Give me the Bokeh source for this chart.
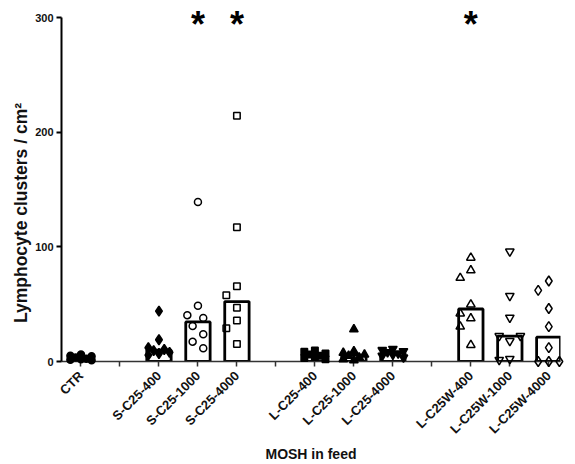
import math
import numpy as np
from bokeh.plotting import figure
from bokeh.models import Range1d, FixedTicker
from bokeh.core.properties import value
from bokeh.embed import file_html
from bokeh.resources import INLINE

# ---------------- data ----------------
groups = ["CTR", "S-C25-400", "S-C25-1000", "S-C25-4000",
          "L-C25-400", "L-C25-1000", "L-C25-4000",
          "L-C25W-400", "L-C25W-1000", "L-C25W-4000"]
# axis slots (None = empty gap slot)
slots = ["CTR", None, "S-C25-400", "S-C25-1000", "S-C25-4000", None,
         "L-C25-400", "L-C25-1000", "L-C25-4000", None,
         "L-C25W-400", "L-C25W-1000", "L-C25W-4000"]

ctr = [6, 5, 4.5, 3.5, 2.5, 2, 1.5, 1]
s_c25_400 = [44, 19, 12, 10.5, 9.5, 8, 7, 5.5]
s_c25_1000 = [139, 48.6, 40.4, 38, 31, 23.7, 17.3, 11.5]
s_c25_4000 = [214.4, 117, 65.6, 57.8, 46.8, 35.8, 28.9, 15.3]
l_c25_400 = [9.5, 8.5, 7, 6, 5, 4, 3, 2]
l_c25_1000 = [28, 9, 7.5, 6, 5, 3.5, 2, 1]
l_c25_4000 = [11, 10, 9, 8, 7, 6, 5, 3.5]
l_c25w_400 = [90.5, 79.5, 72.9, 49.7, 41.9, 37.6, 30.4, 14.4]
l_c25w_1000 = [95.9, 57.2, 38.2, 17.9, 22.2, 22.2, 2.3, 1.4]
l_c25w_4000 = [70.2, 62.1, 46.2, 30.4, 12.1, 0, 0, 0]
series = [ctr, s_c25_400, s_c25_1000, s_c25_4000, l_c25_400, l_c25_1000,
          l_c25_4000, l_c25w_400, l_c25w_1000, l_c25w_4000]
significant = ["S-C25-1000", "S-C25-4000", "L-C25W-400"]
y_ticks = [0, 100, 200, 300]
y_title = "Lymphocyte clusters / cm\u00b2"
x_title = "MOSH in feed"

# ---------------- styles ----------------
markers = ["circle", "diamond", "circle", "square", "square", "triangle",
           "inverted_triangle", "triangle", "inverted_triangle", "diamond"]
filled = [True, True, False, False, True, True, True, False, False, False]
msize = {"circle": 7, "square": 6.5, "triangle": 8.5,
         "inverted_triangle": 8.5, "diamond": 10}

FONT_NAME = "Liberation Sans"
FONT = value(FONT_NAME)
W, H = 570, 464
P_LEFT, P_RIGHT, P_TOP, P_BOTTOM = 61, 10, 17, 101
X0, X1, Y0, Y1 = -0.5, 12.3, 0, 300

pos = {g: i for i, g in enumerate(slots) if g is not None}
px_per_x = (W - P_LEFT - P_RIGHT) / (X1 - X0)
px_per_y = (H - P_TOP - P_BOTTOM) / (Y1 - Y0)


def swarm(vals, slot_px=5.3, min_d=11.0, max_slot=2):
    """Greedy column-scatter: spread points that would overlap."""
    placed, offs = [], []
    order = [0]
    for k in range(1, max_slot + 1):
        order += [-k, k]

    def mind(v, s):
        if not placed:
            return 1e9
        return min(math.hypot((s - s2) * slot_px, (v - v2) * px_per_y)
                   for v2, s2 in placed)

    for v in vals:
        chosen = None
        for s in order:
            if mind(v, s) >= min_d:
                chosen = s
                break
        if chosen is None:
            chosen = max(order, key=lambda s: mind(v, s))
        placed.append((v, chosen))
        offs.append(chosen * slot_px / px_per_x)
    return offs


p = figure(width=W, height=H, output_backend="svg", toolbar_location=None,
           x_range=Range1d(X0, X1), y_range=Range1d(Y0, Y1),
           min_border_left=P_LEFT, min_border_right=P_RIGHT,
           min_border_top=P_TOP, min_border_bottom=P_BOTTOM)
p.outline_line_color = None
p.xgrid.visible = False
p.ygrid.visible = False
p.background_fill_color = "white"
p.border_fill_color = "white"

# bars = medians
xs_bar = [pos[g] for g in groups]
medians = [float(np.median(v)) for v in series]
p.vbar(x=xs_bar, top=medians, bottom=0, width=0.625, fill_color="white",
       line_color="black", line_width=2.8)

# points
for g, vals, m, f in zip(groups, series, markers, filled):
    offs = swarm(vals)
    xs = [pos[g] + o for o in offs]
    p.scatter(x=xs, y=vals, marker=m, size=msize[m],
              fill_color="black" if f else None,
              line_color="black", line_width=1.5, level="overlay")

# significance stars
star_x = [pos[g] for g in significant]
p.text(x=star_x, y=[Y1 - 6] * len(star_x), text=["*"] * len(star_x),
       text_font=FONT, text_font_size="36px", text_font_style="bold",
       text_align="center", text_baseline="alphabetic", text_color="black",
       level="overlay")

# y axis title (placed beside the axis, slightly below the frame centre)
p.text(x=[X0 - 41 / px_per_x], y=[Y0 + 129.5], text=[y_title], angle=math.pi / 2,
       text_font=FONT, text_font_size="17.5px", text_font_style="bold",
       text_align="center", text_baseline="middle", text_color="#111111",
       level="overlay")

# y axis
ya = p.yaxis[0]
ya.ticker = FixedTicker(ticks=y_ticks)
ya.minor_tick_line_color = None
ya.axis_line_width = 2
ya.major_tick_line_width = 2
ya.major_tick_out = 5
ya.major_tick_in = 0
ya.major_label_standoff = 3
ya.major_label_text_font = FONT_NAME
ya.major_label_text_font_style = "bold"
ya.major_label_text_font_size = "11px"
ya.major_label_text_color = "#111111"

# x axis
xa = p.xaxis[0]
xa.ticker = FixedTicker(ticks=list(range(len(slots))))
xa.major_label_overrides = {i: (g if g is not None else "") for i, g in enumerate(slots)}
xa.major_label_orientation = math.pi / 4
xa.minor_tick_line_color = None
xa.axis_line_width = 1.5
xa.axis_line_color = "#333333"
xa.major_tick_line_width = 1.5
xa.major_tick_line_color = "#333333"
xa.major_tick_out = 5
xa.major_tick_in = 0
xa.major_label_standoff = 7
xa.major_label_text_font = FONT_NAME
xa.major_label_text_font_style = "bold"
xa.major_label_text_font_size = "13px"
xa.major_label_text_color = "#111111"
xa.axis_label = x_title
xa.axis_label_text_font = FONT_NAME
xa.axis_label_text_font_style = "bold"
xa.axis_label_text_font_size = "14px"
xa.axis_label_text_color = "#111111"
xa.axis_label_standoff = 1

open("out.html", "w").write(file_html(p, INLINE))
